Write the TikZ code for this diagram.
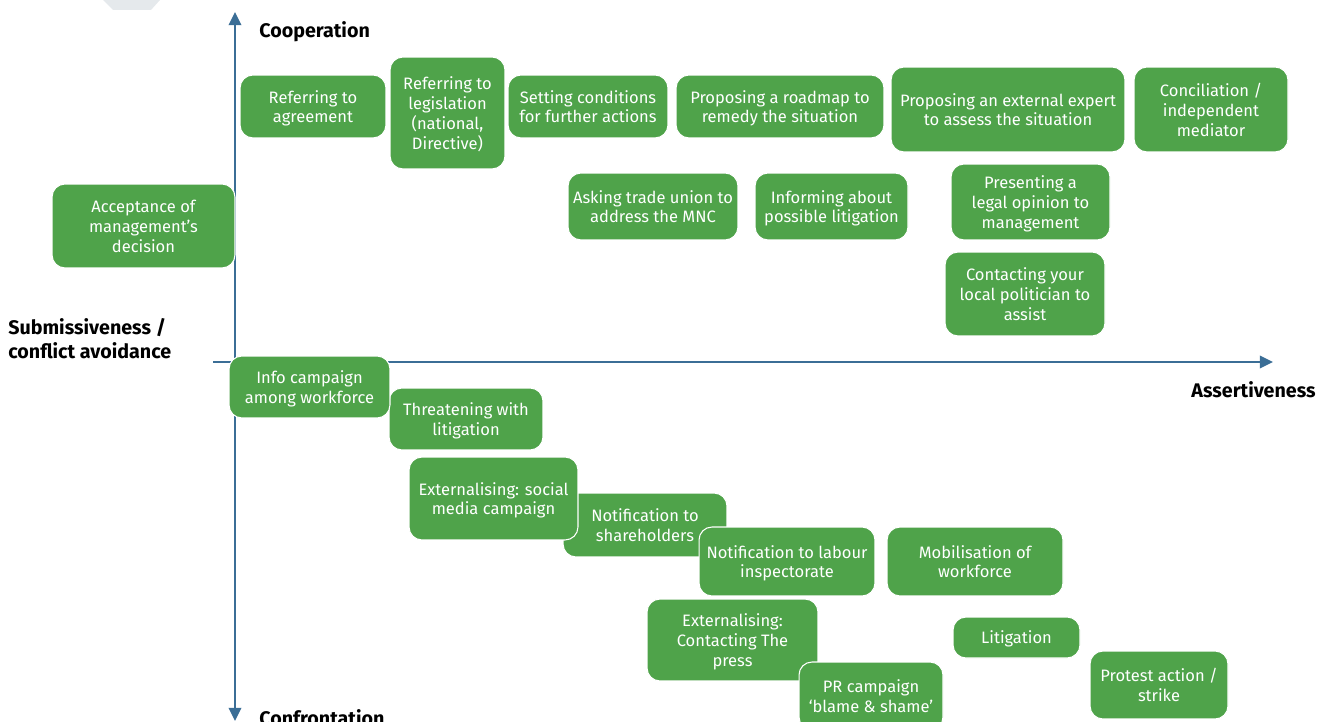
\documentclass[tikz,border=0pt]{standalone}
\usepackage{fontspec}
\setmainfont{Fira Sans}
\usepackage{tikz}
\usetikzlibrary{arrows.meta}
\usetikzlibrary{positioning}
\definecolor{mgreen}{RGB}{79, 163, 74}
\definecolor{maxis}{RGB}{59, 110, 150}
\definecolor{mgrey}{RGB}{229, 233, 236}
\tikzset{act/.style = {fill = mgreen, draw = white, line width = 0.6pt, rounded corners = 0.26cm, align = center, text = white, inner sep = 1pt, text depth = -1.8pt, font = \fontsize{9.4}{11.3}\selectfont}}
\tikzset{ax/.style = {draw = maxis, line width = 1.4pt, >={Triangle[length = 7.5pt, width = 7pt]}}}
\tikzset{axlabel/.style = {font = \fontsize{11.2}{13.6}\selectfont\bfseries, inner sep = 0, align = left}}

\begin{document}
\begin{tikzpicture}[x = 0.02cm, y = -0.02cm]
      \useasboundingbox (0, 0) rectangle (1324, 722);
      \fill [mgrey] (103, 0) -- (160, 0) -- (151, 10) -- (113, 10) -- cycle;
      \coordinate (top) at (235, 12);
      \coordinate (bottom) at (235, 721);
      \coordinate (left) at (213, 362);
      \coordinate (right) at (1273, 362);
      \draw [ax, <->] (bottom) -- (top);
      \draw [ax, ->] (left) -- (right);
      \node [axlabel, anchor = west] (coop) at (259, 32) {Cooperation};
      \node [axlabel, anchor = west] (confr) at (259, 718) {Confrontation};
      \node [axlabel, anchor = west] (subm) at (8, 339) {Submissiveness /\\conflict avoidance};
      \node [axlabel, anchor = east] (assert) at (1316, 390) {Assertiveness};
      \node [act, minimum width = 3.66cm, minimum height = 1.68cm] (accept) at (143.5, 226) {Acceptance of\\management’s\\decision};
      \node [act, minimum width = 2.92cm, minimum height = 1.26cm] (agree) at (313, 106.5) {Referring to\\agreement};
      \node [act, minimum width = 2.30cm, minimum height = 2.24cm] (legis) at (447.5, 113) {Referring to\\legislation\\(national,\\Directive)};
      \node [act, minimum width = 3.20cm, minimum height = 1.26cm] (cond) at (588, 106.5) {Setting conditions\\for further actions};
      \node [act, minimum width = 4.16cm, minimum height = 1.26cm] (roadmap) at (780, 106.5) {Proposing a roadmap to\\remedy the situation};
      \node [act, minimum width = 4.68cm, minimum height = 1.70cm] (expert) at (1008, 109.5) {Proposing an external expert\\to assess the situation};
      \node [act, minimum width = 3.08cm, minimum height = 1.70cm] (concil) at (1211, 109.5) {Conciliation /\\independent\\mediator};
      \node [act, minimum width = 3.40cm, minimum height = 1.34cm] (union) at (653, 206.5) {Asking trade union to\\address the MNC};
      \node [act, minimum width = 3.06cm, minimum height = 1.34cm] (inform) at (831.5, 206.5) {Informing about\\possible litigation};
      \node [act, minimum width = 3.18cm, minimum height = 1.52cm] (opinion) at (1030.5, 202) {Presenting a\\legal opinion to\\management};
      \node [act, minimum width = 3.20cm, minimum height = 1.68cm] (politic) at (1025, 294) {Contacting your\\local politician to\\assist};
      \node [act, minimum width = 3.08cm, minimum height = 1.24cm] (threat) at (466, 419) {Threatening with\\litigation};
      \node [act, minimum width = 3.22cm, minimum height = 1.24cm] (infocamp) at (309.5, 387) {Info campaign\\among workforce};
      \node [act, minimum width = 3.28cm, minimum height = 1.28cm] (share) at (645, 525) {Notification to\\shareholders};
      \node [act, minimum width = 3.38cm, minimum height = 1.66cm] (social) at (493.5, 498.5) {Externalising: social\\media campaign};
      \node [act, minimum width = 3.52cm, minimum height = 1.38cm] (labour) at (787, 561.5) {Notification to labour\\inspectorate};
      \node [act, minimum width = 3.52cm, minimum height = 1.38cm] (mobil) at (975, 561.5) {Mobilisation of\\workforce};
      \node [act, minimum width = 3.42cm, minimum height = 1.64cm] (press) at (732.5, 640) {Externalising:\\Contacting The\\press};
      \node [act, minimum width = 2.88cm, minimum height = 1.36cm] (prcamp) at (871, 696) {PR campaign\\‘blame \& shame’};
      \node [act, minimum width = 2.54cm, minimum height = 0.82cm] (litig) at (1016.5, 637.5) {Litigation};
      \node [act, minimum width = 2.76cm, minimum height = 1.36cm] (protest) at (1159, 685) {Protest action /\\strike};
    \end{tikzpicture}
\end{document}
